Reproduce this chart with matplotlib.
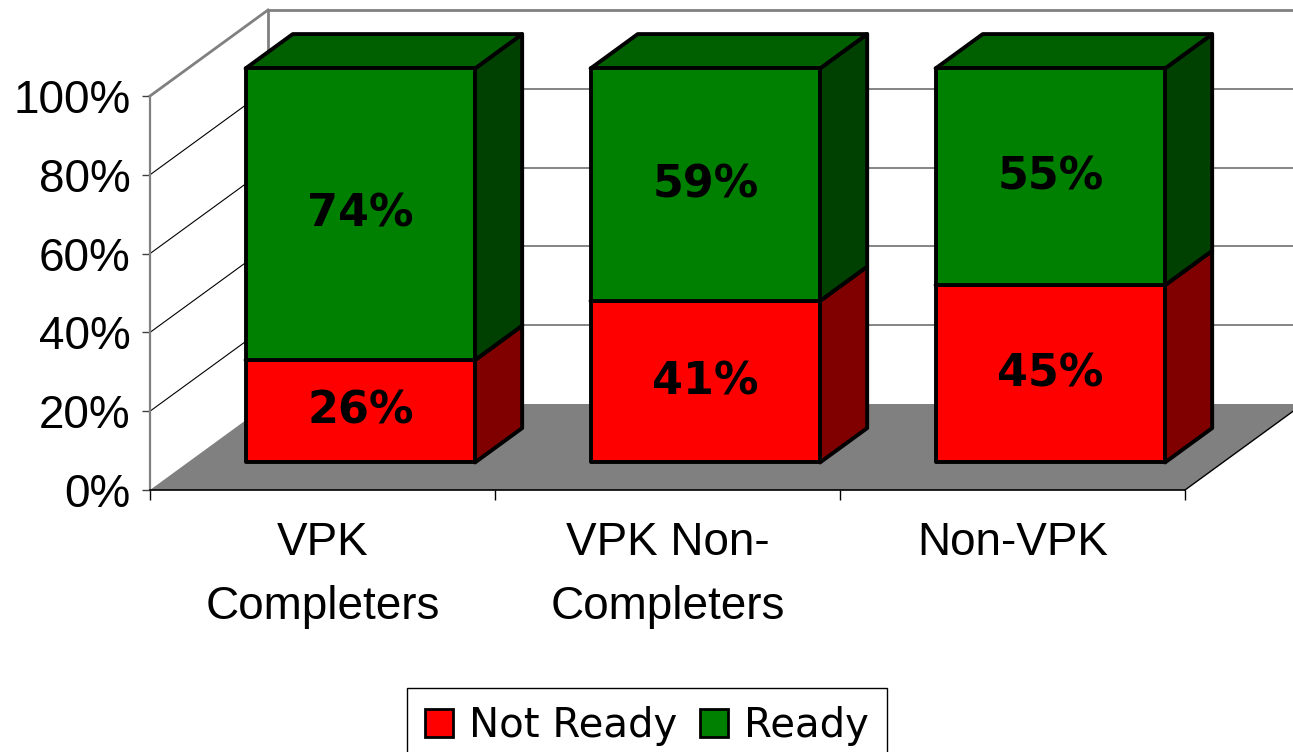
import matplotlib
matplotlib.use('Agg')
import matplotlib.pyplot as plt
import numpy as np
from matplotlib.patches import Polygon, Patch
from matplotlib.transforms import IdentityTransform, ScaledTranslation

categories = ['VPK\nCompleters', 'VPK Non-\nCompleters', 'Non-VPK']
not_ready = [26, 41, 45]
ready = [74, 59, 55]
series_names = ['Not Ready', 'Ready']
y_ticks = [0, 20, 40, 60, 80, 100]
y_tick_labels = ['0%', '20%', '40%', '60%', '80%', '100%']

front_colors = ['#ff0000', '#008000']
top_colors = ['#c00000', '#006000']
side_colors = ['#800000', '#004000']

plt.rcParams['font.family'] = 'Liberation Sans'

W, H = 1293, 752
fig = plt.figure(figsize=(W / 100, H / 100), dpi=100)
ax = fig.add_axes([150 / W, 262 / H, 1035 / W, 394 / H])
ax.set_xlim(-0.5, 2.5)
ax.set_ylim(0, 100)
ax.set_facecolor('none')

# oblique depth of the box, in pixels (right, up)
DEPTH = np.array([118.0, 86.0])
BAR_FRONT, BAR_BACK = 0.32, 0.72
BAR_W = 0.665
ident = IdentityTransform()


def proj(x, v, f):
    # data point on the front plane pushed back by depth fraction f
    return ax.transData.transform((x, v)) + DEPTH * f


def face(pts, color, ec='none', lw=0, z=1):
    ax.add_patch(Polygon(pts, closed=True, facecolor=color, edgecolor=ec,
                         linewidth=lw, joinstyle='round', transform=ident,
                         clip_on=False, zorder=z))


def line(p0, p1, color, lw, z=1):
    ax.plot([p0[0], p1[0]], [p0[1], p1[1]], color=color, lw=lw,
            transform=ident, clip_on=False, zorder=z,
            solid_capstyle='projecting')


x0, x1 = ax.get_xlim()
y0, y1 = ax.get_ylim()

# walls and floor
face([proj(x0, y0, 1), proj(x1, y0, 1), proj(x1, y1, 1), proj(x0, y1, 1)], 'white', z=0.1)
face([proj(x0, y0, 0), proj(x1, y0, 0), proj(x1, y0, 1), proj(x0, y0, 1)], '#808080', z=0.3)
for v in y_ticks[1:-1]:
    line(proj(x0, v, 1), proj(x1, v, 1), '#707070', 1.2, z=0.2)
    line(proj(x0, v, 0), proj(x0, v, 1), 'black', 0.8, z=0.2)
line(proj(x0, y1, 0), proj(x0, y1, 1), '#808080', 2.0, z=0.4)
line(proj(x0, y1, 1), proj(x1, y1, 1), '#808080', 2.0, z=0.4)
line(proj(x0, y0, 1), proj(x0, y1, 1), '#808080', 2.0, z=0.25)
line(proj(x1, y0, 0), proj(x1, y0, 1), 'black', 1.0, z=0.4)

# stacked 3d bars
off = ScaledTranslation(DEPTH[0] * BAR_FRONT / 100, DEPTH[1] * BAR_FRONT / 100,
                        fig.dpi_scale_trans)
for i in range(len(categories)):
    bottom = 0
    for s, vals in enumerate([not_ready, ready]):
        top = bottom + vals[i]
        xl, xr = i - BAR_W / 2, i + BAR_W / 2
        z = 1 + s
        face([proj(xr, bottom, BAR_FRONT), proj(xr, bottom, BAR_BACK),
              proj(xr, top, BAR_BACK), proj(xr, top, BAR_FRONT)],
             side_colors[s], 'black', 2.8, z)
        face([proj(xl, top, BAR_FRONT), proj(xr, top, BAR_FRONT),
              proj(xr, top, BAR_BACK), proj(xl, top, BAR_BACK)],
             top_colors[s], 'black', 2.8, z)
        face([proj(xl, bottom, BAR_FRONT), proj(xr, bottom, BAR_FRONT),
              proj(xr, top, BAR_FRONT), proj(xl, top, BAR_FRONT)],
             front_colors[s], 'black', 2.8, z)
        ax.text(i, (bottom + top) / 2, f'{vals[i]}%', transform=ax.transData + off,
                ha='center', va='center', fontsize=32, fontweight='bold',
                family='DejaVu Sans', zorder=10)
        bottom = top

# axes
for side in ['top', 'right']:
    ax.spines[side].set_visible(False)
ax.spines['left'].set_color('#808080')
ax.spines['left'].set_linewidth(1.6)
ax.spines['bottom'].set_color('black')
ax.spines['bottom'].set_linewidth(1.2)

ax.set_yticks(y_ticks, y_tick_labels)
ax.tick_params(axis='y', length=6, width=1, color='#404040', pad=8, labelsize=33)
ax.set_xticks([-0.5, 0.5, 1.5, 2.5], ['', '', '', ''])
ax.set_xticks(range(len(categories)), categories, minor=True)
ax.tick_params(axis='x', which='major', length=7, width=1, color='black')
ax.tick_params(axis='x', which='minor', length=0, pad=22, labelsize=33)
for lbl in ax.get_xticklabels(minor=True):
    lbl.set_linespacing(1.6)

handles = [Patch(facecolor=c, edgecolor='black', linewidth=2) for c in front_colors]
leg = fig.legend(handles, series_names, loc='upper left',
                 bbox_to_anchor=(407 / W, 64 / H), bbox_transform=fig.transFigure,
                 ncol=2, frameon=True, fancybox=False, edgecolor='black',
                 framealpha=1, prop={'family': 'DejaVu Sans', 'size': 29},
                 handlelength=0.7, handleheight=0.7, handletextpad=0.4,
                 columnspacing=0.55, borderpad=0.45, borderaxespad=0)
leg.get_frame().set_linewidth(1)

fig.savefig('out.png', dpi=100)
